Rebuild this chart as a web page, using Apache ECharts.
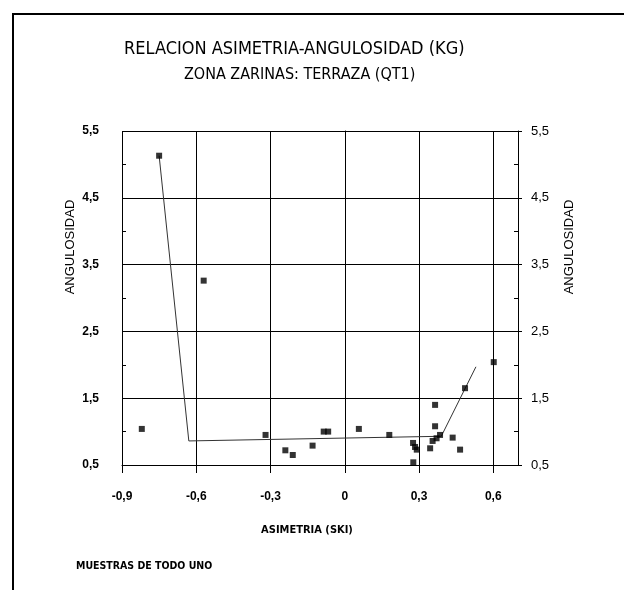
<!DOCTYPE html>
<html><head><meta charset="utf-8">
<script src="https://cdn.jsdelivr.net/npm/echarts@6/dist/echarts.min.js"></script>
<style>html,body{margin:0;padding:0;background:#fff}#c{width:624px;height:590px}</style>
</head><body><div id="c"></div>
<script>
// ---- data ----
const xTicks = [-0.9, -0.6, -0.3, 0, 0.3, 0.6];
const yTicks = [0.5, 1.5, 2.5, 3.5, 4.5, 5.5];
const yMinorTicks = [1, 2, 3, 4, 5];
const asimetria = [-0.75, -0.57, -0.82, -0.32, -0.24, -0.21, -0.13, -0.085, -0.067, 0.057, 0.18,
  0.276, 0.284, 0.291, 0.277, 0.345, 0.365, 0.365, 0.355, 0.371, 0.385, 0.436, 0.466, 0.486, 0.602];
const angulosidad = [5.13, 3.26, 1.04, 0.95, 0.72, 0.65, 0.79, 1.00, 1.00, 1.04, 0.95,
  0.83, 0.77, 0.73, 0.54, 0.75, 1.40, 1.08, 0.86, 0.90, 0.95, 0.91, 0.73, 1.65, 2.04];
const fitX = [-0.75, -0.63, 0.39, 0.53];
const fitY = [5.13, 0.86, 0.93, 1.97];
const titleText = 'RELACION ASIMETRIA-ANGULOSIDAD (KG)';
const subtitleText = 'ZONA ZARINAS: TERRAZA (QT1)';
const xName = 'ASIMETRIA (SKI)';
const yName = 'ANGULOSIDAD';
const noteText = 'MUESTRAS DE TODO UNO';

const COND = "'DejaVu Sans Condensed', sans-serif";
const ARIAL = "'Liberation Sans', Arial, sans-serif";
const fmt = v => String(v).replace('.', ',');

const chart = echarts.init(document.getElementById('c'), null, {renderer: 'canvas'});
const labelBase = {color: '#000', fontFamily: ARIAL, fontWeight: 'bold', fontSize: 12};
const minorAxis = pos => ({
  type: 'value', position: pos, min: 0.5, max: 5.5, offset: -4,
  axisLine: {show: false},
  axisTick: {show: true, inside: false, customValues: yMinorTicks, length: 4, lineStyle: {color: '#000'}},
  axisLabel: {show: false}, splitLine: {show: false}
});
chart.setOption({
  animation: false,
  backgroundColor: '#fff',
  grid: {left: 122, right: 106, top: 131, bottom: 125, containLabel: false},
  xAxis: {
    type: 'value', min: -0.9, max: 0.7,
    axisLine: {show: true, onZero: false, lineStyle: {color: '#000', width: 1}},
    axisTick: {show: true, customValues: xTicks, length: 8, lineStyle: {color: '#000'}},
    axisLabel: Object.assign({customValues: xTicks, formatter: fmt, margin: 26}, labelBase),
    splitLine: {show: true, lineStyle: {color: '#000', width: 1}}
  },
  yAxis: [
    {
      type: 'value', position: 'left', min: 0.5, max: 5.5,
      axisLine: {show: true, lineStyle: {color: '#000', width: 1}},
      axisTick: {show: true, customValues: yTicks, length: 10, lineStyle: {color: '#000'}},
      axisLabel: Object.assign({customValues: yTicks, formatter: fmt, margin: 23, padding: [14, 0, 0, 0]}, labelBase),
      splitLine: {show: true, lineStyle: {color: '#000', width: 1}}
    },
    {
      type: 'value', position: 'right', min: 0.5, max: 5.5,
      axisLine: {show: true, lineStyle: {color: '#000', width: 1}},
      axisTick: {show: true, customValues: yTicks, length: 4, lineStyle: {color: '#000'}},
      axisLabel: Object.assign({customValues: yTicks, formatter: fmt, margin: 13, padding: [12, 0, 0, 0]}, labelBase, {fontWeight: 'normal', fontSize: 13}),
      splitLine: {show: false}
    },
    minorAxis('left'),
    minorAxis('right')
  ],
  series: [
    {
      type: 'line', xAxisIndex: 0, yAxisIndex: 0,
      data: fitX.map((x, i) => [x, fitY[i]]),
      showSymbol: false, symbol: 'none',
      lineStyle: {color: '#333', width: 1}, z: 3
    },
    {
      type: 'scatter', xAxisIndex: 0, yAxisIndex: 0,
      data: asimetria.map((x, i) => [x, angulosidad[i]]),
      symbol: 'rect', symbolSize: 6,
      itemStyle: {color: '#000'}, z: 4
    }
  ],
  graphic: [
    {type: 'line', shape: {x1: 13, y1: 14, x2: 13, y2: 590}, style: {stroke: '#000', lineWidth: 2}},
    {type: 'line', shape: {x1: 12, y1: 14, x2: 624, y2: 14}, style: {stroke: '#000', lineWidth: 2}},
    {type: 'text', x: 124, y: 49, style: {text: titleText, fill: '#000', font: "18px " + COND, align: 'left', verticalAlign: 'middle'}},
    {type: 'text', x: 184, y: 75, style: {text: subtitleText, fill: '#000', font: "16px " + COND, align: 'left', verticalAlign: 'middle'}},
    {type: 'text', x: 307, y: 530, style: {text: xName, fill: '#000', font: "bold 11px " + COND, align: 'center', verticalAlign: 'middle'}},
    {type: 'text', x: 76, y: 566, style: {text: noteText, fill: '#000', font: "bold 10.5px " + COND, align: 'left', verticalAlign: 'middle'}},
    {type: 'text', x: 70, y: 247, rotation: Math.PI / 2, style: {text: yName, fill: '#000', font: "13px " + ARIAL, align: 'center', verticalAlign: 'middle'}},
    {type: 'text', x: 569, y: 247, rotation: Math.PI / 2, style: {text: yName, fill: '#000', font: "13px " + ARIAL, align: 'center', verticalAlign: 'middle'}}
  ]
});
</script></body></html>
